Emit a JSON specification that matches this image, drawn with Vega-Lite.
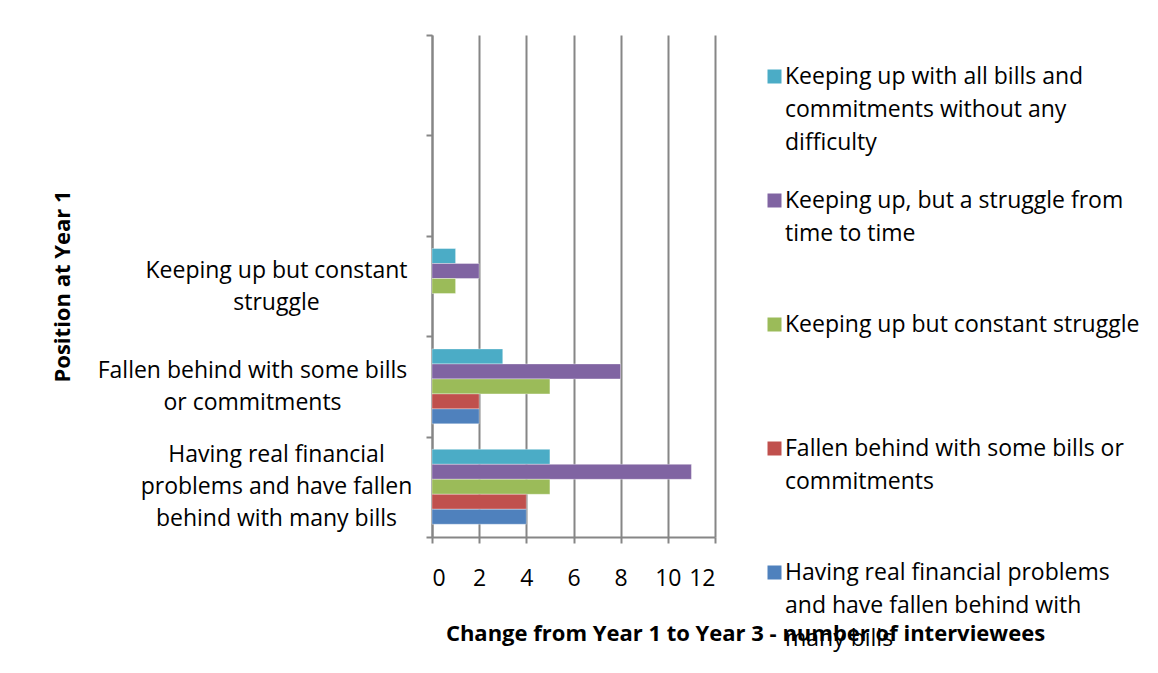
{
  "$schema": "https://vega.github.io/schema/vega-lite/v6.json",
  "width": 283,
  "height": 502,
  "autosize": "none",
  "padding": {"left": 432, "top": 35, "right": 443, "bottom": 136},
  "background": "white",
  "config": {
    "font": "Open Sans",
    "view": {"stroke": null},
    "style": {"guide-label": {"lineHeight": 33}},
    "axis": {"labelColor": "black", "titleColor": "black", "domainColor": "#868686", "tickColor": "#868686", "domainWidth": 2, "tickWidth": 2}
  },
  "data": {
    "values": [
      {"position": "Having real financial problems and have fallen behind with many bills", "change": "Keeping up with all bills and commitments without any difficulty", "value": 5},
      {"position": "Having real financial problems and have fallen behind with many bills", "change": "Keeping up, but a struggle from time to time", "value": 11},
      {"position": "Having real financial problems and have fallen behind with many bills", "change": "Keeping up but constant struggle", "value": 5},
      {"position": "Having real financial problems and have fallen behind with many bills", "change": "Fallen behind with some bills or commitments", "value": 4},
      {"position": "Having real financial problems and have fallen behind with many bills", "change": "Having real financial problems and have fallen behind with many bills", "value": 4},
      {"position": "Fallen behind with some bills or commitments", "change": "Keeping up with all bills and commitments without any difficulty", "value": 3},
      {"position": "Fallen behind with some bills or commitments", "change": "Keeping up, but a struggle from time to time", "value": 8},
      {"position": "Fallen behind with some bills or commitments", "change": "Keeping up but constant struggle", "value": 5},
      {"position": "Fallen behind with some bills or commitments", "change": "Fallen behind with some bills or commitments", "value": 2},
      {"position": "Fallen behind with some bills or commitments", "change": "Having real financial problems and have fallen behind with many bills", "value": 2},
      {"position": "Keeping up but constant struggle", "change": "Keeping up with all bills and commitments without any difficulty", "value": 1},
      {"position": "Keeping up but constant struggle", "change": "Keeping up, but a struggle from time to time", "value": 2},
      {"position": "Keeping up but constant struggle", "change": "Keeping up but constant struggle", "value": 1}
    ]
  },
  "mark": {"type": "bar", "stroke": "#ffffff", "strokeOpacity": 0.35, "strokeWidth": 1},
  "encoding": {
    "y": {
      "field": "position",
      "type": "nominal",
      "scale": {
        "domain": ["Keeping up with all bills and commitments without any difficulty", "Keeping up, but a struggle from time to time", "Keeping up but constant struggle", "Fallen behind with some bills or commitments", "Having real financial problems and have fallen behind with many bills"],
        "paddingInner": 0,
        "paddingOuter": 0
      },
      "axis": {
        "title": "Position at Year 1",
        "titleFontSize": 22,
        "titleFontWeight": "bold",
        "titleX": -370,
        "titleBaseline": "middle",
        "labelAlign": "center",
        "labelBaseline": "middle",
        "labelPadding": {"condition": {"test": "datum.value == 'Fallen behind with some bills or commitments'", "value": 174}, "value": 150},
        "labelOffset": {"condition": {"test": "datum.value == 'Having real financial problems and have fallen behind with many bills'", "value": -32}, "value": -16},
        "labelFontSize": 23,
        "labelLineHeight": 32,
        "labelLimit": 500,
        "tickBand": "extent",
        "tickSize": 6,
        "grid": false,
        "labelExpr": "datum.label == 'Keeping up but constant struggle' ? ['Keeping up but constant', 'struggle'] : datum.label == 'Fallen behind with some bills or commitments' ? ['Fallen behind with some bills', 'or commitments'] : datum.label == 'Having real financial problems and have fallen behind with many bills' ? ['Having real financial', 'problems and have fallen', 'behind with many bills'] : ''"
      }
    },
    "yOffset": {
      "field": "change",
      "type": "nominal",
      "scale": {
        "domain": ["Keeping up with all bills and commitments without any difficulty", "Keeping up, but a struggle from time to time", "Keeping up but constant struggle", "Fallen behind with some bills or commitments", "Having real financial problems and have fallen behind with many bills"],
        "paddingInner": 0,
        "paddingOuter": 0.85
      }
    },
    "x": {
      "field": "value",
      "type": "quantitative",
      "scale": {"domain": [0, 12], "nice": false},
      "axis": {
        "values": [0, 2, 4, 6, 8, 10, 12],
        "grid": true,
        "gridColor": "#868686",
        "gridWidth": 2,
        "tickSize": 6,
        "labelFontSize": 23,
        "labelPadding": 24,
        "title": "Change from Year 1 to Year 3 - number of interviewees",
        "titleFontSize": 22,
        "titleFontWeight": "bold",
        "titleX": 313,
        "titleY": 96,
        "titleAlign": "center",
        "titleBaseline": "middle"
      }
    },
    "color": {
      "field": "change",
      "type": "nominal",
      "scale": {
        "domain": ["Keeping up with all bills and commitments without any difficulty", "Keeping up, but a struggle from time to time", "Keeping up but constant struggle", "Fallen behind with some bills or commitments", "Having real financial problems and have fallen behind with many bills"],
        "range": ["#4BACC6", "#8064A2", "#9BBB59", "#C0504D", "#4F81BD"]
      },
      "legend": {
        "title": null,
        "orient": "right",
        "offset": 18,
        "padding": 30,
        "columns": 1,
        "gridAlign": "all",
        "rowPadding": 34,
        "symbolType": "square",
        "symbolSize": 196,
        "symbolStrokeWidth": 0,
        "symbolOpacity": 1,
        "labelFontSize": 23,
        "labelLimit": 450,
        "labelOffset": -1,
        "labelColor": "black",
        "labelBaseline": "middle",
        "encode": {"labels": {"update": {"lineHeight": {"value": 33}}}},
        "labelExpr": "datum.label == 'Keeping up with all bills and commitments without any difficulty' ? ['Keeping up with all bills and', 'commitments without any', 'difficulty'] : datum.label == 'Keeping up, but a struggle from time to time' ? ['Keeping up, but a struggle from', 'time to time'] : datum.label == 'Fallen behind with some bills or commitments' ? ['Fallen behind with some bills or', 'commitments'] : datum.label == 'Having real financial problems and have fallen behind with many bills' ? ['Having real financial problems', 'and have fallen behind with', 'many bills'] : datum.label"
      }
    }
  }
}
